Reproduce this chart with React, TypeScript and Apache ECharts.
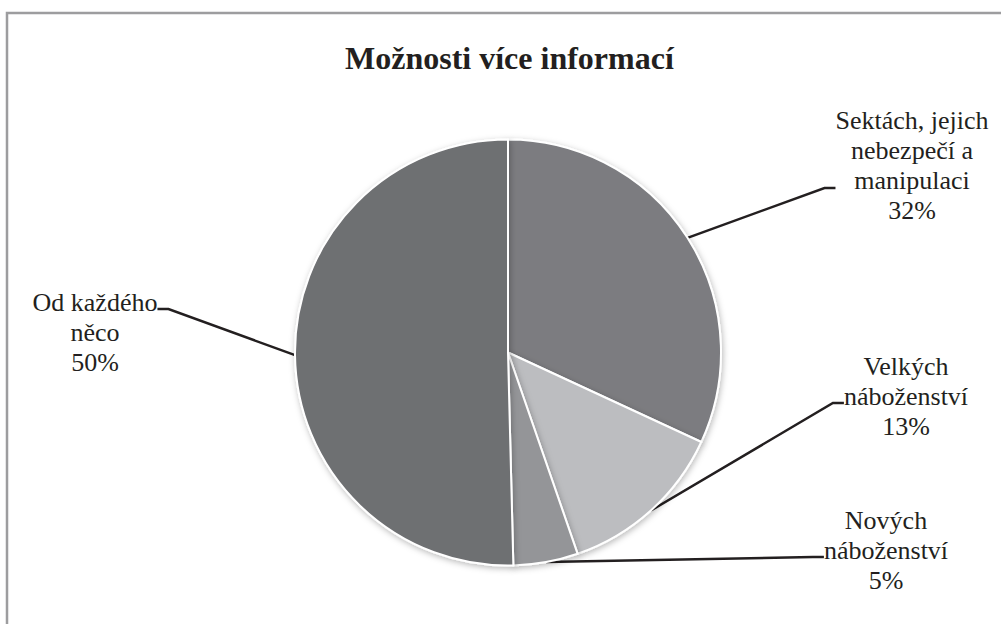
import React, { useEffect, useRef } from 'react';
import * as echarts from 'echarts';

const title = 'Možnosti více informací';
const categories = [
  'Sektách, jejich\nnebezpečí a\nmanipulaci',
  'Velkých\nnáboženství',
  'Nových\nnáboženství',
  'Od každého\nněco',
];
const values = [31.9, 12.8, 4.9, 50.4];
const colors = ['#7b7c80', '#bcbdc0', '#949598', '#6e6f72'];

// label layout: [centerX, leader attach Y] and an invisible spacer (px, above/below)
const labelPos = [
  [912, 188],
  [906, 403],
  [886, 557],
  [95, 309],
];
const spacer = [
  { size: 46, above: false },
  { size: 14, above: false },
  { size: 14, above: false },
  { size: 46, above: true },
];

const SERIF = 'Liberation Serif';

export default function App() {
  const ref = useRef<HTMLDivElement>(null);
  useEffect(() => {
    document.body.style.margin = '0';
    const chart = echarts.init(ref.current!, undefined, { renderer: 'svg' });
    const rich: any = {
      t: {
        fontFamily: SERIF,
        fontSize: 26,
        lineHeight: 30,
        color: '#231f20',
        align: 'center',
      },
    };
    spacer.forEach((s) => {
      rich['g' + s.size] = {
        fontSize: 4,
        lineHeight: s.size,
        height: s.size,
        backgroundColor: 'rgba(255,255,255,0)',
        align: 'center',
      };
    });
    chart.setOption({
      animation: false,
      backgroundColor: '#ffffff',
      textStyle: { fontFamily: SERIF },
      title: {
        text: title,
        left: 340,
        top: 37,
        textStyle: {
          fontFamily: SERIF,
          fontWeight: 'bold',
          fontSize: 32,
          color: '#231f20',
        },
      },
      graphic: [
        {
          type: 'rect',
          shape: { x: 7, y: 13, width: 1200, height: 800 },
          style: { fill: 'none', stroke: '#9d9d9f', lineWidth: 2.5 },
          silent: true,
        },
      ],
      series: [
        {
          type: 'pie',
          center: [508, 352.5],
          radius: 213,
          startAngle: 90,
          clockwise: true,
          percentPrecision: 0,
          data: categories.map((c, i) => ({
            name: c,
            value: values[i],
            itemStyle: { color: colors[i] },
          })),
          itemStyle: {
            borderColor: '#ffffff',
            borderWidth: 2,
            shadowBlur: 6,
            shadowColor: 'rgba(0,0,0,0.28)',
            shadowOffsetX: 1,
            shadowOffsetY: 2,
          },
          label: {
            show: true,
            formatter: (p: any) => {
              const lines = (p.name + '\n' + p.percent + '%')
                .split('\n')
                .map((s: string) => '{t|' + s + '}');
              const sp = spacer[p.dataIndex];
              const gap = '{g' + sp.size + '| }';
              if (sp.above) lines.unshift(gap);
              else lines.push(gap);
              return lines.join('\n');
            },
            rich,
            fontFamily: SERIF,
            fontSize: 26,
            lineHeight: 30,
            color: '#231f20',
            align: 'center',
          },
          labelLine: {
            show: true,
            length2: 11,
            lineStyle: { color: '#231f20', width: 2.5 },
          },
          labelLayout: (params: any) => ({
            x: labelPos[params.dataIndex][0],
            y: labelPos[params.dataIndex][1],
            align: 'center',
            verticalAlign: 'middle',
          }),
        },
      ],
    });
    return () => chart.dispose();
  }, []);
  return (
    <div
      ref={ref}
      style={{ position: 'absolute', left: 0, top: 0, width: 1001, height: 624 }}
    />
  );
}
